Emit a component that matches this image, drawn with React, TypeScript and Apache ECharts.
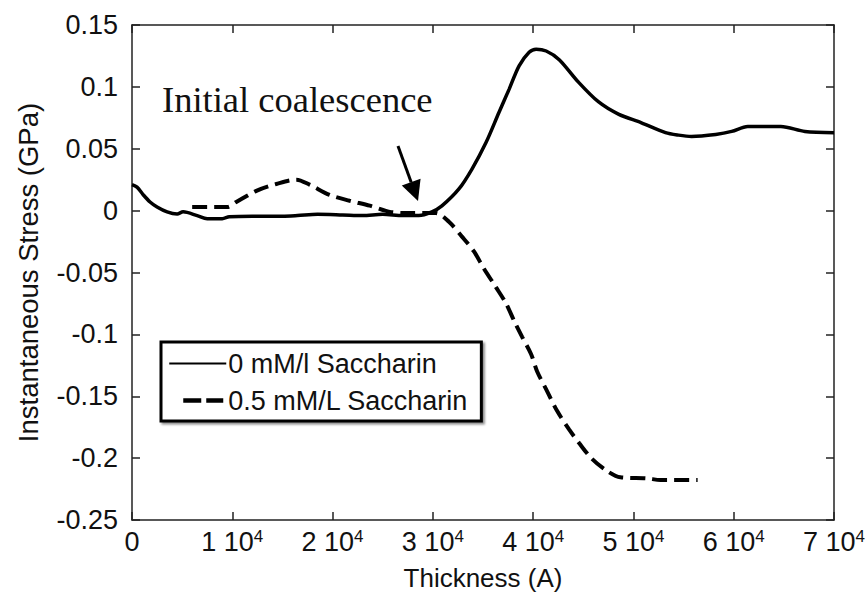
import React, { useEffect, useRef } from "react";
import * as echarts from "echarts";

// Thickness (Angstrom) and instantaneous stress (GPa) for each series
const solidThickness = [0, 500, 1100, 1800, 2500, 3500, 4500, 5100, 6500, 7500, 9000, 9700, 12000, 15000, 16500, 18500, 21000, 23000, 25000, 27000, 28600, 29900, 30900, 32600, 33900, 35300, 36600, 37600, 38600, 39600, 40300, 41300, 42600, 44500, 46500, 48500, 50800, 53200, 54500, 55800, 58200, 59800, 61400, 64700, 67100, 70000];
const solidStress = [0.021, 0.019, 0.013, 0.007, 0.003, -0.001, -0.0027, -0.001, -0.004, -0.0065, -0.0065, -0.005, -0.0045, -0.0045, -0.004, -0.003, -0.0035, -0.004, -0.003, -0.004, -0.004, -0.001, 0.0038, 0.0175, 0.0336, 0.055, 0.0795, 0.098, 0.117, 0.128, 0.1305, 0.129, 0.122, 0.104, 0.088, 0.078, 0.071, 0.063, 0.061, 0.060, 0.0616, 0.064, 0.068, 0.068, 0.064, 0.063];

const dashedThickness = [6000, 9500, 10400, 12400, 14400, 16400, 17700, 19700, 21700, 23700, 25700, 27900, 30300, 31600, 32900, 34100, 35100, 36300, 37300, 38100, 38900, 39800, 40400, 41400, 42400, 43600, 44600, 45800, 47300, 48700, 51300, 52700, 56400];
const dashedStress = [0.003, 0.003, 0.007, 0.016, 0.0215, 0.025, 0.021, 0.0127, 0.008, 0.004, -0.001, -0.002, -0.002, -0.009, -0.021, -0.033, -0.047, -0.062, -0.075, -0.089, -0.102, -0.116, -0.13, -0.146, -0.162, -0.177, -0.188, -0.2, -0.21, -0.2155, -0.2163, -0.2177, -0.2177];

const seriesNames = ["0 mM/l Saccharin", "0.5 mM/L Saccharin"];
const xTickLabels = ["0", "1 10^4", "2 10^4", "3 10^4", "4 10^4", "5 10^4", "6 10^4", "7 10^4"];
const yTickLabels = ["-0.25", "-0.2", "-0.15", "-0.1", "-0.05", "0", "0.05", "0.1", "0.15"];
const annotationText = "Initial coalescence";
const xName = "Thickness (A)";
const yName = "Instantaneous Stress (GPa)";

const SANS = "'Liberation Sans', Arial, sans-serif";
const SERIF = "'Liberation Serif', 'Times New Roman', serif";
const TXT = "#111";
const AX = "#222";
const FS = 27;

export default function App() {
  const ref = useRef<HTMLDivElement>(null);
  useEffect(() => {
    if (!ref.current) return;
    const chart = echarts.init(ref.current, undefined, { renderer: "svg" });
    const solid = solidThickness.map((x, i) => [x, solidStress[i]]);
    const dashed = dashedThickness.map((x, i) => [x, dashedStress[i]]);
    const axisLine = { show: true, onZero: false, lineStyle: { color: AX, width: 1.5 } };
    const axisTick = { show: true, inside: true, length: 8, lineStyle: { color: AX, width: 1.5 } };
    const xFmt = (v: number) => {
      const lab = xTickLabels[Math.round(v / 10000)] ?? "";
      const parts = lab.split("^");
      return parts.length > 1 ? `{a|${parts[0]}}{b|${parts[1]}}` : `{a|${parts[0]}}`;
    };
    const yFmt = (v: number) => yTickLabels[Math.round((v + 0.25) / 0.05)] ?? "";
    // arrow geometry
    const tip = [418, 201];
    const tail = [398, 146];
    const dx = tip[0] - tail[0], dy = tip[1] - tail[1];
    const len = Math.sqrt(dx * dx + dy * dy);
    const ux = dx / len, uy = dy / len;
    const hl = 20, hw = 10;
    const bx = tip[0] - ux * hl, by = tip[1] - uy * hl;
    chart.setOption({
      animation: false,
      backgroundColor: "#fff",
      grid: { left: 132, top: 25, right: 32, bottom: 75 },
      xAxis: [
        {
          type: "value", min: 0, max: 70000, interval: 10000, position: "bottom",
          axisLine, axisTick, splitLine: { show: false },
          axisLabel: {
            margin: 8, formatter: xFmt,
            rich: {
              a: { fontSize: FS, fontFamily: SANS, color: TXT, lineHeight: 27 },
              b: { fontSize: 17, fontFamily: SANS, color: TXT, lineHeight: 17, verticalAlign: "top" },
            },
          },
          name: xName, nameLocation: "middle", nameGap: 45,
          nameTextStyle: { fontSize: 26, fontFamily: SANS, color: TXT },
        },
        {
          type: "value", min: 0, max: 70000, interval: 10000, position: "top",
          axisLine, axisTick, axisLabel: { show: false }, splitLine: { show: false },
        },
      ],
      yAxis: [
        {
          type: "value", min: -0.25, max: 0.15, interval: 0.05, position: "left",
          axisLine, axisTick, splitLine: { show: false },
          axisLabel: { margin: 14, formatter: yFmt, fontSize: FS, fontFamily: SANS, color: TXT },
          name: yName, nameLocation: "middle", nameGap: 90,
          nameTextStyle: { fontSize: 27.5, fontFamily: SANS, color: TXT },
        },
        {
          type: "value", min: -0.25, max: 0.15, interval: 0.05, position: "right",
          axisLine, axisTick, axisLabel: { show: false }, splitLine: { show: false },
        },
      ],
      legend: {
        orient: "vertical", left: 161, top: 342,
        padding: [8, 13, 7, 6], itemGap: 10, itemWidth: 57, itemHeight: 14,
        borderColor: "#000", borderWidth: 3, backgroundColor: "#fff",
        shadowColor: "rgba(0,0,0,0.45)", shadowBlur: 2, shadowOffsetX: 2, shadowOffsetY: 2,
        textStyle: { fontSize: FS, fontFamily: SANS, color: TXT, padding: [0, 0, 0, -3] },
        itemStyle: { opacity: 0, borderWidth: 0 },
        data: [
          { name: seriesNames[0], lineStyle: { width: 2, type: "solid" } },
          { name: seriesNames[1], lineStyle: { width: 4.5, type: [0, 14, 18, 5, 17, 10] } },
        ],
      },
      series: [
        {
          type: "line", name: seriesNames[0], data: solid, symbol: "none", showSymbol: false,
          smooth: 0.3, lineStyle: { color: "#000", width: 3.5 }, itemStyle: { color: "#000" },
        },
        {
          type: "line", name: seriesNames[1], data: dashed, symbol: "none", showSymbol: false,
          smooth: 0.3, lineStyle: { color: "#000", width: 4, type: [15, 7] }, itemStyle: { color: "#000" },
        },
      ],
      graphic: [
        {
          type: "text", left: 162, top: 81,
          style: { text: annotationText, fontSize: 36.5, fontFamily: SERIF, fill: TXT },
        },
        {
          type: "line",
          shape: { x1: tail[0], y1: tail[1], x2: bx, y2: by },
          style: { stroke: "#000", lineWidth: 3 },
        },
        {
          type: "polygon",
          shape: {
            points: [
              [tip[0], tip[1]],
              [bx + uy * hw, by - ux * hw],
              [bx - uy * hw, by + ux * hw],
            ],
          },
          style: { fill: "#000" },
        },
      ],
    });
    return () => chart.dispose();
  }, []);
  return (
    <div
      ref={ref}
      style={{ position: "fixed", left: 0, top: 0, width: 868, height: 596, background: "#fff" }}
    />
  );
}
